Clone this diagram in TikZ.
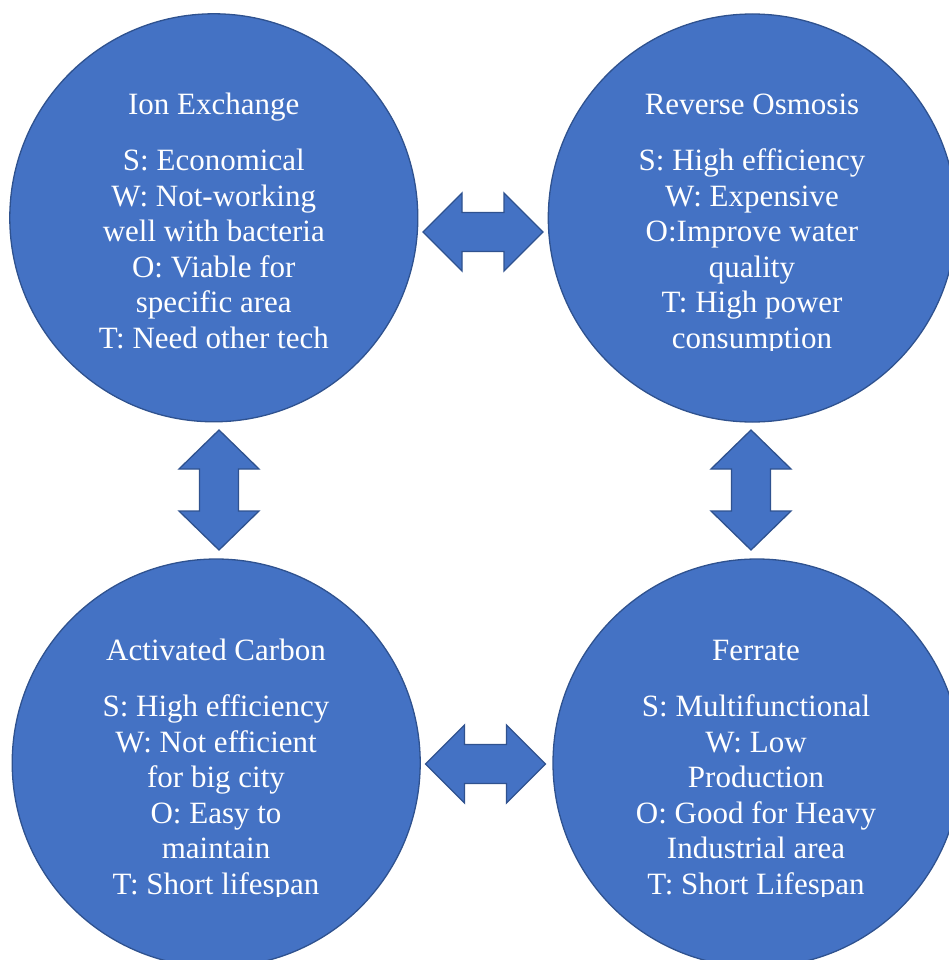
\documentclass[tikz,border=0pt]{standalone}
\usepackage{fontspec}
\setmainfont{Liberation Serif}
\usetikzlibrary{calc}
\definecolor{cfill}{HTML}{4472C4}
\definecolor{cline}{HTML}{2F528F}
\tikzset{
  circ/.style={circle, draw=cline, fill=cfill, line width=1.3pt, minimum size=408pt, inner sep=0pt},
  swot/.style={text=white, align=center, inner sep=0pt, anchor=base, font=\fontsize{31}{35.5}\selectfont},
  blk/.style={draw=cline, fill=cfill, line width=1.3pt, line join=miter},
  harrow/.pic={\path[blk] (-60,0) -- (-21,-39) -- (-21,-19.5) -- (21,-19.5) -- (21,-39) -- (60,0) -- (21,39) -- (21,19.5) -- (-21,19.5) -- (-21,39) -- cycle;},
  varrow/.pic={\path[blk] (0,-60) -- (-40,-21) -- (-19.5,-21) -- (-19.5,21) -- (-40,21) -- (0,60) -- (40,21) -- (19.5,21) -- (19.5,-21) -- (40,-21) -- cycle;}
}
\begin{document}
\begin{tikzpicture}[x=1pt, y=-1pt]
\useasboundingbox (0,0) rectangle (949,960);
% circles
\node[circ] (ie) at (213.8,217.8) {};
\node[circ] (ro) at (752.3,218) {};
\node[circ] (ac) at (216.2,763) {};
\node[circ] (fe) at (757,763) {};
% block arrows
\pic (ab1) at (483,232) {harrow};
\pic (ab2) at (485.5,764) {harrow};
\pic (ab3) at (219,490) {varrow};
\pic (ab4) at (751,490) {varrow};
% texts (anchored at the baseline of the last line)
\begin{scope}
\clip (0,0) rectangle (949,350.5);
\node[swot] (tie) at (213.8,348.3) {Ion Exchange\\[21pt] S: Economical\\ W: Not-working\\ well with bacteria\\ O: Viable for\\ specific area\\ T: Need other tech};
\node[swot] (tro) at (752,348.3) {Reverse Osmosis\\[21pt] S: High efficiency\\ W: Expensive\\ O:Improve water\\ quality\\ T: High power\\ consumption};
\end{scope}
\begin{scope}
\clip (0,480) rectangle (949,896);
\node[swot] (tac) at (216,894) {Activated Carbon\\[21pt] S: High efficiency\\ W: Not efficient\\ for big city\\ O: Easy to\\ maintain\\ T: Short lifespan};
\node[swot] (tfe) at (756,894) {Ferrate\\[21pt] S: Multifunctional\\ W: Low\\ Production\\ O: Good for Heavy\\ Industrial area\\ T: Short Lifespan};
\end{scope}
\end{tikzpicture}
\end{document}
